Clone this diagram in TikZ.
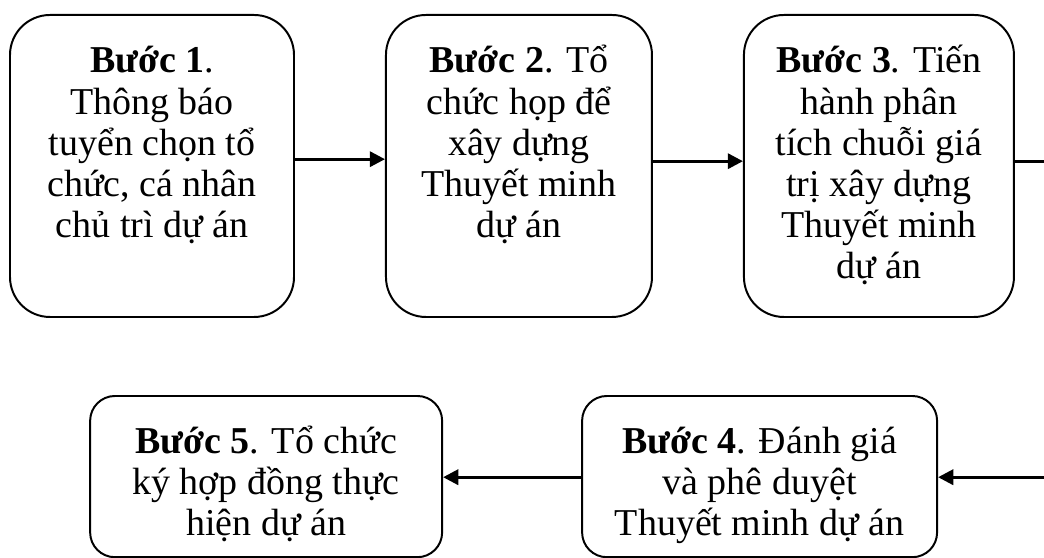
\documentclass[tikz,border=0pt]{standalone}
\usepackage{fontspec}
\setmainfont{Liberation Serif}
\usepackage{tikz}
\usetikzlibrary{arrows.meta}
\usetikzlibrary{positioning}

\begin{document}
\begin{tikzpicture}[stepbox/.style={draw, line width=1.4pt, inner xsep=0pt, inner ysep=0pt,
            align=flush center, font={\fontsize{27pt}{29.3pt}\selectfont}},
        topbox/.style={stepbox, rounded corners=1cm, text height=1.45cm, text depth=6.1cm},
        lowbox/.style={stepbox, rounded corners=0.62cm, text height=1.43cm, text depth=2.6cm},
        flow/.style={line width=2.1pt, -{Triangle[length=0.38cm, width=0.38cm]}},
        node distance=2.25cm]
        \useasboundingbox (0,0) rectangle (26.1,-13.95);

        \node[topbox, text width=7.1cm, anchor=north] (b1) at (3.8,-0.35)
            {\textbf{Bước 1}.\\Thông báo\\tuyển chọn tổ\\chức, cá nhân\\chủ trì dự án};
        \node[topbox, text width=6.65cm, right=of b1] (b2)
            {\textbf{Bước 2}. Tổ\\chức họp để\\xây dựng\\Thuyết minh\\dự án};
        \node[topbox, text width=6.75cm, right=of b2] (b3)
            {\textbf{Bước 3}. Tiến\\hành phân\\tích chuỗi giá\\trị xây dựng\\Thuyết minh\\dự án};

        \node[lowbox, text width=8.875cm, anchor=north] (b4) at (18.99,-9.875)
            {\textbf{Bước 4}. Đánh giá\\và phê duyệt\\Thuyết minh dự án};
        \node[lowbox, text width=8.8cm, left=3.45cm of b4] (b5)
            {\textbf{Bước 5}. Tổ chức\\ký hợp đồng thực\\hiện dự án};

        \coordinate (edge) at (26.1,-11.93);

        \draw[flow] ([yshift=0.17cm]b1.east) -- ([yshift=0.17cm]b2.west);
        \draw[flow] ([yshift=0.12cm]b2.east) -- ([yshift=0.12cm]b3.west);
        \draw[line width=2.1pt] ([yshift=0.12cm]b3.east) -- ([yshift=0.12cm]b3.east -| edge);
        \draw[flow] (edge) -- (edge -| b4.east);
        \draw[flow] (edge -| b4.west) -- (edge -| b5.east);
    \end{tikzpicture}
\end{document}
